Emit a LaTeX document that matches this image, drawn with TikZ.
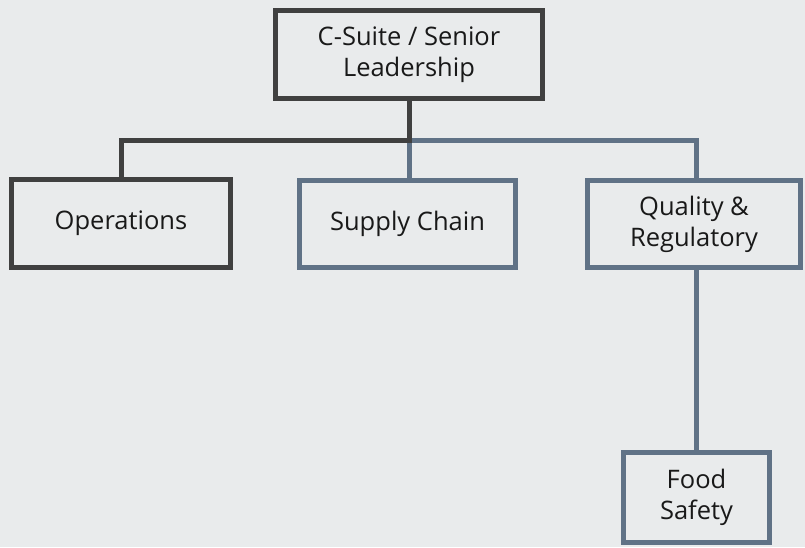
\documentclass[tikz,border=0pt]{standalone}
\usepackage{fontspec}
\setmainfont{Open Sans}
\definecolor{bgc}{RGB}{233, 235, 236}
\definecolor{dark}{RGB}{64, 64, 64}
\definecolor{slate}{RGB}{96, 114, 134}
\definecolor{ink}{RGB}{25, 25, 25}
\begin{document}
\begin{tikzpicture}[x=1pt, y=-1pt,
      box/.style={draw=dark, fill=bgc, line width=5pt, align=center, inner sep=0pt,
                  font=\fontsize{25.5}{31}\selectfont, text=ink},
      bbox/.style={box, draw=slate},
      dk/.style={draw=dark, line width=5pt},
      bl/.style={draw=slate, line width=5pt}]
      \fill[bgc] (0,0) rectangle (805,547);
      \useasboundingbox (0,0) rectangle (805,547);
      \node[box, minimum width=267pt, minimum height=88pt] (top) at (409,54.5) {C-Suite / Senior\\Leadership};
      \node[box, minimum width=219pt, minimum height=88pt] (ops) at (121,223.5) {Operations};
      \node[bbox, minimum width=216pt, minimum height=87pt] (sup) at (407.5,224) {Supply Chain};
      \node[bbox, minimum width=213pt, minimum height=87pt] (qual) at (694,224) {Quality \&\\Regulatory};
      \node[bbox, minimum width=146pt, minimum height=90pt] (food) at (696.5,497.5) {Food\\Safety};
      \path (top.south) ++(0,39) coordinate (j);
      \draw[bl] (j) -| (qual.north -| food.north);
      \draw[bl] (j) -- (j |- sup.north);
      \draw[dk] (top.south) -- (j) -| (ops.north);
      \draw[bl] (qual.south -| food.north) -- (food.north);
    \end{tikzpicture}
\end{document}
